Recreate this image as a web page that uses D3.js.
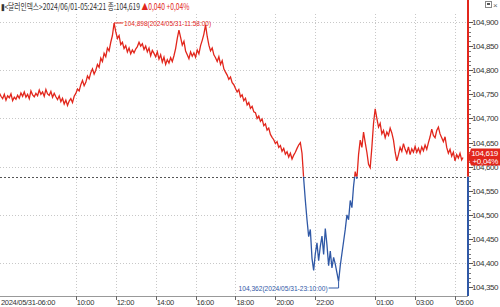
<!DOCTYPE html>
<html>
<head>
<meta charset="utf-8">
<script src="https://cdn.jsdelivr.net/npm/d3@7"></script>
<style>
  body { margin: 0; background: #fff; }
  svg { display: block; font-family: "Liberation Sans", Arial, sans-serif; }
</style>
</head>
<body>
<div id="canvas"></div>
<script>
// 5-minute closes, 2024/05/31 06:00 -> 2024/06/01 05:20 (one row per hour)
const startTime = new Date(2024, 4, 31, 6, 0);
const stepMin = 5;
const prices = [
  104.748, 104.744, 104.753, 104.746, 104.741, 104.750, 104.738, 104.747, 104.743, 104.751, 104.737, 104.744, // 06
  104.740, 104.748, 104.742, 104.753, 104.746, 104.755, 104.744, 104.750, 104.741, 104.757, 104.749, 104.745, // 07
  104.752, 104.747, 104.759, 104.750, 104.755, 104.746, 104.760, 104.751, 104.748, 104.756, 104.744, 104.752, // 08
  104.745, 104.739, 104.747, 104.735, 104.742, 104.730, 104.738, 104.727, 104.736, 104.741, 104.733, 104.746, // 09
  104.752, 104.761, 104.757, 104.770, 104.779, 104.768, 104.775, 104.788, 104.782, 104.795, 104.803, 104.792, // 10
  104.800, 104.812, 104.806, 104.825, 104.818, 104.835, 104.828, 104.846, 104.840, 104.858, 104.872, 104.898, // 11
  104.880, 104.866, 104.872, 104.853, 104.858, 104.845, 104.851, 104.838, 104.846, 104.834, 104.842, 104.836, // 12
  104.844, 104.849, 104.858, 104.850, 104.855, 104.843, 104.850, 104.838, 104.846, 104.830, 104.841, 104.835, // 13
  104.828, 104.838, 104.823, 104.832, 104.817, 104.827, 104.812, 104.822, 104.815, 104.826, 104.818, 104.830, // 14
  104.845, 104.866, 104.883, 104.868, 104.852, 104.860, 104.840, 104.832, 104.824, 104.838, 104.829, 104.836, // 15
  104.827, 104.842, 104.834, 104.851, 104.862, 104.875, 104.894, 104.870, 104.852, 104.840, 104.846, 104.832, // 16
  104.826, 104.818, 104.828, 104.812, 104.820, 104.803, 104.796, 104.790, 104.781, 104.786, 104.774, 104.770, // 17
  104.762, 104.755, 104.760, 104.745, 104.749, 104.737, 104.742, 104.728, 104.733, 104.721, 104.725, 104.714, // 18
  104.712, 104.700, 104.705, 104.694, 104.699, 104.685, 104.689, 104.676, 104.680, 104.667, 104.661, 104.656, // 19
  104.648, 104.652, 104.640, 104.644, 104.632, 104.638, 104.626, 104.631, 104.620, 104.628, 104.616, 104.624, // 20
  104.630, 104.638, 104.645, 104.650, 104.628, 104.575, 104.530, 104.490, 104.455, 104.470, 104.410, 104.385, // 21
  104.420, 104.442, 104.405, 104.435, 104.456, 104.418, 104.472, 104.438, 104.395, 104.425, 104.390, 104.412, // 22
  104.398, 104.380, 104.362, 104.395, 104.420, 104.445, 104.470, 104.500, 104.490, 104.530, 104.515, 104.560, // 23
  104.590, 104.575, 104.625, 104.655, 104.640, 104.672, 104.650, 104.630, 104.605, 104.598, 104.640, 104.690, // 00
  104.720, 104.700, 104.682, 104.690, 104.668, 104.675, 104.660, 104.672, 104.665, 104.680, 104.670, 104.655, // 01
  104.630, 104.612, 104.625, 104.640, 104.632, 104.648, 104.636, 104.628, 104.641, 104.625, 104.637, 104.630, // 02
  104.642, 104.630, 104.638, 104.628, 104.641, 104.633, 104.645, 104.636, 104.650, 104.662, 104.678, 104.665, // 03
  104.660, 104.675, 104.682, 104.668, 104.660, 104.652, 104.662, 104.640, 104.628, 104.636, 104.622, 104.630, // 04
  104.612, 104.625, 104.618, 104.628, 104.614                                                                  // 05
];
const lastTime = new Date(2024, 5, 1, 5, 24);
const lastPrice = 104.619;
const prevClose = 104.579;

const yTicks = [104.35, 104.40, 104.45, 104.50, 104.55, 104.60, 104.65, 104.70, 104.75, 104.80, 104.85, 104.90];
const yGrid = [104.40, 104.50, 104.60, 104.70, 104.80, 104.90];
const timeTicks = [
  new Date(2024, 4, 31, 6), new Date(2024, 4, 31, 10), new Date(2024, 4, 31, 12),
  new Date(2024, 4, 31, 14), new Date(2024, 4, 31, 16), new Date(2024, 4, 31, 18),
  new Date(2024, 4, 31, 20), new Date(2024, 4, 31, 22), new Date(2024, 5, 1, 1),
  new Date(2024, 5, 1, 3), new Date(2024, 5, 1, 5)
];
const timeLabels = ["2024/05/31-06:00", "10:00", "12:00", "14:00", "16:00", "18:00", "20:00", "22:00", "01:00", "03:00", "05:00"];

const headerText = "\u25AE<달러인덱스>2024/06/01-05:24:21 종:104,619 ";
const headerChange = "\u25B20,040 +0,04%";
const maxLabel = "104,898(2024/05/31-11:58:00)";
const minLabel = "104,362(2024/05/31-23:10:00)";
const lastLabel = ["104,619", "+0,04%"];

const red = "#e2261c";
const blue = "#2f58a6";

const width = 500;
const height = 307;
const axisX = 468;
const bottomY = 296;

const data = prices.map((p, i) => ({ t: new Date(startTime.getTime() + i * stepMin * 60000), v: p }));
data.push({ t: lastTime, v: lastPrice });

const svg = d3.select("#canvas").append("svg")
  .attr("width", width)
  .attr("height", height);

const x = d3.scaleTime()
  .domain([new Date(2024, 4, 31, 6, 0), new Date(2024, 5, 1, 5, 30)])
  .range([-4, 465]);

const y = d3.scaleLinear()
  .domain([104.35, 104.90])
  .range([287.3, 22]);

const fmt = v => v.toFixed(3).replace(".", ",");

// grid
svg.append("g").selectAll("line").data(yGrid).enter().append("line")
  .attr("x1", 0).attr("x2", axisX)
  .attr("y1", d => Math.round(y(d)) + 0.5).attr("y2", d => Math.round(y(d)) + 0.5)
  .attr("stroke", "#c8c8c8").attr("stroke-dasharray", "1,2");

svg.append("g").selectAll("line").data(timeTicks.slice(1)).enter().append("line")
  .attr("x1", d => Math.round(x(d)) + 0.5).attr("x2", d => Math.round(x(d)) + 0.5)
  .attr("y1", 14).attr("y2", bottomY)
  .attr("stroke", "#c8c8c8").attr("stroke-dasharray", "1,2");

// previous close
const baseY = y(prevClose);
svg.append("line")
  .attr("x1", 0).attr("x2", axisX)
  .attr("y1", Math.round(baseY) + 0.5).attr("y2", Math.round(baseY) + 0.5)
  .attr("stroke", "#555").attr("stroke-dasharray", "2,2");

// price line, red above the close and blue below
const defs = svg.append("defs");
defs.append("clipPath").attr("id", "above").append("rect")
  .attr("x", 0).attr("y", 0).attr("width", axisX).attr("height", baseY);
defs.append("clipPath").attr("id", "below").append("rect")
  .attr("x", 0).attr("y", baseY).attr("width", axisX).attr("height", height - baseY);

const line = d3.line().x(d => x(d.t)).y(d => y(d.v));

svg.append("path").datum(data)
  .attr("clip-path", "url(#above)")
  .attr("fill", "none").attr("stroke", red).attr("stroke-width", 1.3)
  .attr("d", line);
svg.append("path").datum(data)
  .attr("clip-path", "url(#below)")
  .attr("fill", "none").attr("stroke", blue).attr("stroke-width", 1.3)
  .attr("d", line);

// max / min notes
const hi = data.reduce((a, b) => (b.v > a.v ? b : a));
const lo = data.reduce((a, b) => (b.v < a.v ? b : a));

svg.append("line")
  .attr("x1", x(hi.t)).attr("x2", x(hi.t) + 9)
  .attr("y1", y(hi.v)).attr("y2", y(hi.v))
  .attr("stroke", red);
svg.append("text")
  .attr("x", x(hi.t) + 10).attr("y", y(hi.v) + 3)
  .attr("fill", red).style("font-size", "8px")
  .attr("textLength", 87).attr("lengthAdjust", "spacingAndGlyphs")
  .text(maxLabel);

const loY = bottomY - 8;
svg.append("polyline")
  .attr("points", `${x(lo.t) - 10},${loY} ${x(lo.t)},${loY} ${x(lo.t)},${y(lo.v)}`)
  .attr("fill", "none").attr("stroke", blue);
svg.append("text")
  .attr("x", x(lo.t) - 11).attr("y", loY + 3)
  .attr("text-anchor", "end")
  .attr("fill", blue).style("font-size", "8px")
  .attr("textLength", 89).attr("lengthAdjust", "spacingAndGlyphs")
  .text(minLabel);

// bottom axis
svg.append("line")
  .attr("x1", 0).attr("x2", axisX)
  .attr("y1", bottomY + 0.5).attr("y2", bottomY + 0.5)
  .attr("stroke", "#999");

const xt = svg.append("g").selectAll("g").data(timeTicks).enter().append("g");
xt.append("line")
  .attr("x1", d => Math.round(x(d)) + 0.5).attr("x2", d => Math.round(x(d)) + 0.5)
  .attr("y1", bottomY).attr("y2", bottomY + 4)
  .attr("stroke", "#666");
xt.append("text")
  .attr("x", d => Math.max(x(d), 0) + 1)
  .attr("y", 305)
  .attr("fill", "#333").style("font-size", "7.5px").style("letter-spacing", "-0.3px")
  .text((d, i) => timeLabels[i]);

// right axis line, split at the close
svg.append("line")
  .attr("x1", axisX).attr("x2", axisX)
  .attr("y1", 0).attr("y2", baseY)
  .attr("stroke", red).attr("stroke-width", 2);
svg.append("line")
  .attr("x1", axisX).attr("x2", axisX)
  .attr("y1", baseY).attr("y2", bottomY)
  .attr("stroke", blue).attr("stroke-width", 2);

const minor = d3.range(104.35, 104.905, 0.01);
svg.append("g").selectAll("line").data(minor).enter().append("line")
  .attr("x1", axisX + 1).attr("x2", axisX + 3)
  .attr("y1", d => Math.round(y(d)) + 0.5).attr("y2", d => Math.round(y(d)) + 0.5)
  .attr("stroke", "#777");

const yt = svg.append("g").selectAll("g").data(yTicks).enter().append("g");
yt.append("line")
  .attr("x1", axisX + 1).attr("x2", axisX + 5)
  .attr("y1", d => Math.round(y(d)) + 0.5).attr("y2", d => Math.round(y(d)) + 0.5)
  .attr("stroke", "#555");
yt.append("text")
  .attr("x", axisX + 4).attr("y", d => y(d) + 3)
  .attr("fill", "#333").style("font-size", "8px").style("letter-spacing", "-0.4px")
  .text(d => fmt(d));

// last price tag
const lastY = y(lastPrice);
svg.append("path")
  .attr("d", `M${axisX},${lastY} L${axisX + 3},${lastY - 9} L${width},${lastY - 9} L${width},${lastY + 8} L${axisX + 3},${lastY + 8} Z`)
  .attr("fill", red);
svg.append("g").selectAll("text").data(lastLabel).enter().append("text")
  .attr("x", width - 2).attr("y", (d, i) => lastY - 2 + i * 8)
  .attr("text-anchor", "end")
  .attr("fill", "#fff").style("font-size", "8px").style("letter-spacing", "-0.3px")
  .text(d => d);

// header, squeezed horizontally to the reference width
const headG = svg.append("g");
const head = headG.append("text")
  .attr("x", 0).attr("y", 10)
  .style("font-family", "'Noto Sans CJK KR', sans-serif").style("font-size", "9px");
head.append("tspan").attr("fill", "#333").text(headerText);
head.append("tspan").attr("fill", red).text(headerChange);
const headW = head.node().getComputedTextLength();
headG.attr("transform", `translate(1,0) scale(${189 / headW},1)`);

// window buttons, top right
svg.append("rect").attr("x", 485.5).attr("y", 1.5).attr("width", 6).attr("height", 6)
  .attr("fill", "#fff").attr("stroke", "#888");
svg.append("rect").attr("x", 487).attr("y", 3).attr("width", 3).attr("height", 2).attr("fill", "#555");
svg.append("text").attr("x", 493).attr("y", 8).attr("fill", "#666")
  .style("font-size", "8px").text("×");
</script>
</body>
</html>
